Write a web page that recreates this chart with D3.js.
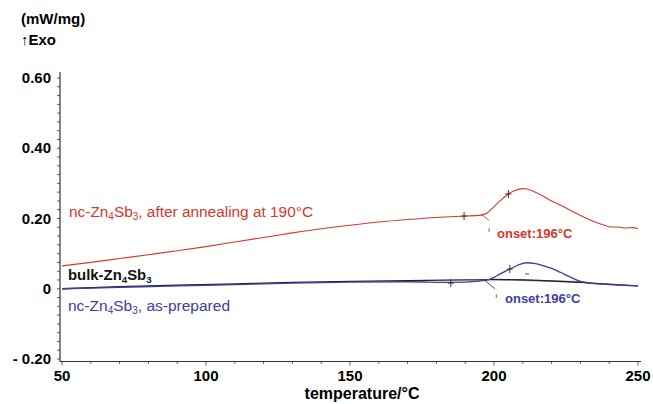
<!DOCTYPE html>
<html>
<head>
<meta charset="utf-8">
<script src="https://cdn.jsdelivr.net/npm/d3@7"></script>
<style>
  body { margin: 0; background: #fff; }
  svg { font-family: "Liberation Sans", Arial, sans-serif; }
  .tick-label { font-weight: bold; font-size: 15px; }
</style>
</head>
<body>
<svg></svg>
<script>
// DSC curves, [temperature °C, heat flow mW/mg]
const annealed = [
	[50, 0.065], [60, 0.075], [70, 0.086], [80, 0.097], [90, 0.108], [100, 0.12],
	[110, 0.133], [120, 0.146], [130, 0.159], [140, 0.171], [150, 0.181], [160, 0.19],
	[170, 0.197], [180, 0.203], [190, 0.207], [195, 0.209], [197.5, 0.215], [200, 0.234],
	[202.5, 0.253], [204.5, 0.267], [206.5, 0.277], [208.5, 0.283], [210.5, 0.285],
	[213, 0.28], [216.5, 0.266], [219.5, 0.252], [222.5, 0.24], [225.5, 0.228],
	[228.5, 0.215], [231.5, 0.203], [234.5, 0.192], [237.5, 0.183], [240.5, 0.176],
	[243, 0.176], [245.5, 0.173], [248, 0.174], [250, 0.171]
];
const asPrepared = [
	[50, 0.0], [70, 0.004], [90, 0.008], [110, 0.012], [130, 0.016], [150, 0.019],
	[170, 0.02], [185, 0.018], [195, 0.022], [198.5, 0.027], [201, 0.037], [204, 0.05],
	[207, 0.062], [209.5, 0.071], [211.5, 0.074], [214, 0.072], [217, 0.066], [220, 0.058],
	[223, 0.047], [226, 0.035], [229, 0.024], [232, 0.017], [236, 0.014], [240, 0.012],
	[245, 0.01], [250, 0.008]
];
const bulk = [
	[50, 0.0], [70, 0.006], [90, 0.01], [110, 0.014], [130, 0.018], [150, 0.021],
	[170, 0.023], [190, 0.025], [200, 0.026], [215, 0.024], [230, 0.018], [240, 0.013],
	[250, 0.008]
];
// integration baseline under the as-prepared peak
const peakBaseline = [[198.5, 0.027], [232, 0.019]];
// onset tangents and markers
const redOnset = [[195.5, 0.213], [198.3, 0.194]];
const redOnsetTick = [[198.3, 0.172], [198.3, 0.162]];
const blueOnset = [[196.5, 0.026], [200.3, 0.0]];
const blueOnsetTick = [[200.8, -0.016], [200.8, -0.026]];
const redCrosses = [[189.6, 0.207], [205, 0.27]];
const blueCrosses = [[185, 0.016], [205.5, 0.056]];
const blueDash = [[211.5, 0.042]];

const xTicks = [50, 100, 150, 200, 250];
const yTicks = [0.6, 0.4, 0.2, 0, -0.2];
const yTickLabels = ["0.60", "0.40", "0.20", "0", "- 0.20"];

const size = { w: 653, h: 404 };
const svg = d3.select("svg").attr("width", size.w).attr("height", size.h);

const x = d3.scaleLinear().domain([50, 250]).range([62, 638]);
const y = d3.scaleLinear().domain([-0.2, 0.6]).range([359, 78]);

const red = "#d4382b";
const blue = "#3f3c9f";

// --------- AXES ----------
const axisG = svg.append("g").attr("stroke", "#333").attr("stroke-width", 1.2);
axisG.append("line").attr("x1", 60).attr("x2", 60).attr("y1", 72).attr("y2", 361.5);
axisG.append("line").attr("x1", 60).attr("x2", 641).attr("y1", 361.5).attr("y2", 361.5);

// minor ticks
d3.range(-0.2, 0.6001, 0.025).forEach((v) => {
	axisG.append("line").attr("stroke-width", 0.8)
		.attr("x1", 57).attr("x2", 60).attr("y1", y(v)).attr("y2", y(v));
});
d3.range(50, 251, 10).forEach((t) => {
	let major = t % 50 === 0;
	axisG.append("line").attr("stroke-width", 0.8)
		.attr("x1", x(t)).attr("x2", x(t))
		.attr("y1", 361.5).attr("y2", 361.5 + (major ? 4 : 2.5));
});

svg.selectAll("text.ylab")
	.data(yTicks)
	.join("text")
	.attr("class", "tick-label")
	.attr("x", 51)
	.attr("y", (d) => y(d) + 5)
	.attr("text-anchor", "end")
	.text((d, i) => yTickLabels[i]);

svg.selectAll("text.xlab")
	.data(xTicks)
	.join("text")
	.attr("class", "tick-label")
	.attr("x", (d) => x(d))
	.attr("y", 381)
	.attr("text-anchor", "middle")
	.text((d) => d);

svg.append("text").attr("x", 362).attr("y", 399).attr("text-anchor", "middle")
	.style("font-weight", "bold").style("font-size", "16px").text("temperature/°C");
svg.append("text").attr("x", 21).attr("y", 24)
	.style("font-weight", "bold").style("font-size", "15px").text("(mW/mg)");
svg.append("text").attr("x", 21).attr("y", 45)
	.style("font-weight", "bold").style("font-size", "15px").text("↑Exo");

// --------- CURVES ----------
const line = d3.line().x((d) => x(d[0])).y((d) => y(d[1])).curve(d3.curveMonotoneX);
const straight = d3.line().x((d) => x(d[0])).y((d) => y(d[1]));

svg.append("path").attr("d", straight(peakBaseline)).attr("fill", "none")
	.attr("stroke", "#8a8a8a").attr("stroke-width", 1.6);
svg.append("path").attr("d", line(bulk)).attr("fill", "none")
	.attr("stroke", "#222").attr("stroke-width", 1.3);
svg.append("path").attr("d", line(asPrepared)).attr("fill", "none")
	.attr("stroke", blue).attr("stroke-width", 1.3);
svg.append("path").attr("d", line(annealed)).attr("fill", "none")
	.attr("stroke", red).attr("stroke-width", 1.1);

// onset construction lines
[[redOnset, red], [redOnsetTick, "#555"], [blueOnset, "#333"], [blueOnsetTick, "#555"]]
	.forEach(([pts, c]) => {
		svg.append("path").attr("d", straight(pts)).attr("fill", "none")
			.attr("stroke", c).attr("stroke-width", 0.9);
	});

function crosses(pts, c) {
	pts.forEach((p) => {
		let cx = x(p[0]), cy = y(p[1]);
		svg.append("path")
			.attr("d", `M${cx - 3},${cy}H${cx + 3}M${cx},${cy - 4}V${cy + 4}`)
			.attr("stroke", c).attr("stroke-width", 1);
	});
}
crosses(redCrosses, "#333");
crosses(blueCrosses, "#333");
blueDash.forEach((p) => {
	svg.append("line").attr("x1", x(p[0]) - 2).attr("x2", x(p[0]) + 2)
		.attr("y1", y(p[1])).attr("y2", y(p[1])).attr("stroke", "#555");
});

// --------- LABELS ----------
function chemLabel(px, py, color, weight, size, pre, post) {
	let t = svg.append("text").attr("x", px).attr("y", py)
		.attr("fill", color).style("font-weight", weight).style("font-size", size + "px");
	t.append("tspan").text(pre + "Zn");
	t.append("tspan").attr("dy", 3).style("font-size", (size * 0.65) + "px").text("4");
	t.append("tspan").attr("dy", -3).text("Sb");
	t.append("tspan").attr("dy", 3).style("font-size", (size * 0.65) + "px").text("3");
	t.append("tspan").attr("dy", -3).text(post);
}
chemLabel(69, 217, red, "normal", 15.4, "nc-", ", after annealing at 190°C");
chemLabel(68, 280, "#111", "bold", 14.9, "bulk-", "");
chemLabel(68, 311, blue, "normal", 15.5, "nc-", ", as-prepared");

svg.append("text").attr("x", 497).attr("y", 238).attr("fill", red)
	.style("font-weight", "bold").style("font-size", "13px").text("onset:196°C");
svg.append("text").attr("x", 505).attr("y", 303).attr("fill", blue)
	.style("font-weight", "bold").style("font-size", "13px").text("onset:196°C");
</script>
</body>
</html>
